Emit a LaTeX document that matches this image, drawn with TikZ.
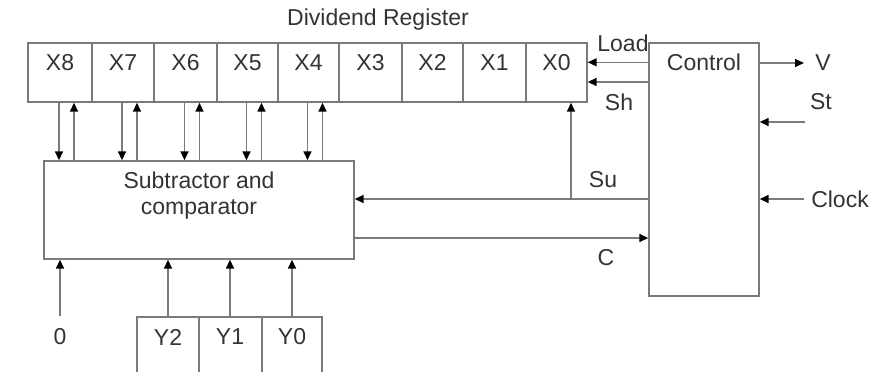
\documentclass[tikz,border=0pt]{standalone}
\usepackage{fontspec}
\setmainfont{Liberation Sans}
\usetikzlibrary{arrows.meta}
\definecolor{linegray}{HTML}{7A7A7A}
\definecolor{inkgray}{HTML}{333333}
\tikzset{
  cell/.style={draw=linegray, line width=1.4pt, minimum height=59pt, inner sep=0pt},
  blk/.style={draw=linegray, line width=1.4pt, inner sep=0pt},
  txt/.style={text=inkgray, font=\fontsize{23}{26}\selectfont, inner sep=0pt},
  wire/.style={draw=linegray, line width=1.5pt},
  arr/.style={wire, -{Triangle[length=9pt,width=8pt,color=black]}},
}
\begin{document}
\begin{tikzpicture}[x=1pt,y=-1pt]
\useasboundingbox (0,0) rectangle (892,372);

% dividend register cells
\node[cell, minimum width=64pt] (x8) at (60,72.5) {};
\node[cell, minimum width=62pt] (x7) at (123,72.5) {};
\node[cell, minimum width=63pt] (x6) at (185.5,72.5) {};
\node[cell, minimum width=61pt] (x5) at (247.5,72.5) {};
\node[cell, minimum width=61pt] (x4) at (308.5,72.5) {};
\node[cell, minimum width=63pt] (x3) at (370.5,72.5) {};
\node[cell, minimum width=61pt] (x2) at (432.5,72.5) {};
\node[cell, minimum width=63pt] (x1) at (494.5,72.5) {};
\node[cell, minimum width=61pt] (x0) at (556.5,72.5) {};
\foreach \c/\t in {x8/X8,x7/X7,x6/X6,x5/X5,x4/X4,x3/X3,x2/X2,x1/X1,x0/X0}
  \path (\c.north) ++(0,20) node[txt] {\t};
\node[txt] (dreg) at (378,20) {Dividend Register};

% subtractor / comparator
\node[blk, minimum width=310pt, minimum height=98pt] (sub) at (199,210) {};
\node[txt, align=center] (subtxt) at (199,196) {Subtractor and\\comparator};

% control unit
\node[blk, minimum width=110pt, minimum height=253pt] (ctrl) at (704,169.5) {};
\path (ctrl.north) ++(0,20) node[txt] (ctrltxt) {Control};

% divisor register
\coordinate (ytl) at (137,317);
\coordinate (ytr) at (322,317);
\draw[wire] (137,372) -- (ytl) -- (ytr) -- (322,372);
\draw[wire] (199,317) -- (199,372);
\draw[wire] (262,317) -- (262,372);
\node[txt] (y2) at (168,337) {Y2};
\node[txt] (y1) at (230,337) {Y1};
\node[txt] (y0) at (292,337) {Y0};
\node[txt] (zero) at (60,337) {0};

% register <-> subtractor data paths
\foreach \c in {x8,x7,x6,x5,x4} {
  \draw[arr] ([xshift=-1pt]\c.south) -- ([xshift=-1pt]\c.south |- sub.north);
  \draw[arr] ([xshift=14pt]\c.south |- sub.north) -- ([xshift=14pt]\c.south);
}

% divisor and zero inputs
\draw[arr] (60,316) -- (60,0 |- sub.south);
\draw[arr] (y2 |- ytl) -- (y2 |- sub.south);
\draw[arr] (y1 |- ytl) -- (y1 |- sub.south);
\draw[arr] (y0 |- ytl) -- (y0 |- sub.south);

% control signals
\draw[arr] (ctrl.west |- ctrltxt) -- (x0.east |- ctrltxt);
\draw[arr] (ctrl.west |- 0,82) -- (x0.east |- 0,82);
\node[txt] (load) at (623,43) {Load};
\node[txt] (sh) at (619,102) {Sh};

\coordinate (sutap) at (571,199);
\draw[arr] (ctrl.west |- sutap) -- (sub.east |- sutap);
\draw[arr] (sutap) -- (sutap |- x0.south);
\node[txt] (su) at (603,180) {Su};

\draw[arr] (sub.east |- 0,238) -- (ctrl.west |- 0,238);
\node[txt] (cl) at (606,258) {C};

\coordinate (vend) at (804,63);
\draw[arr] (ctrl.east |- vend) -- (vend);
\node[txt] (v) at (823,63) {V};

\coordinate (stin) at (805,122);
\draw[arr] (stin) -- (ctrl.east |- stin);
\node[txt] (st) at (821,102) {St};

\coordinate (clkin) at (804,199);
\draw[arr] (clkin) -- (ctrl.east |- clkin);
\node[txt] (clk) at (840,199) {Clock};
\end{tikzpicture}
\end{document}
